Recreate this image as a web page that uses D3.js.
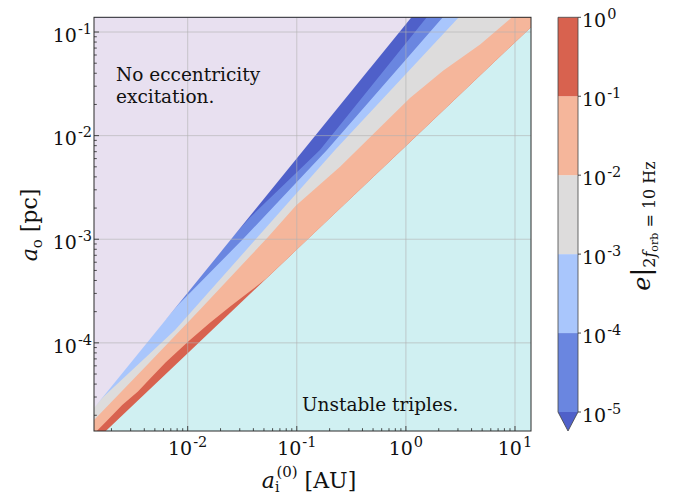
<!DOCTYPE html>
<html>
<head>
<meta charset="utf-8">
<script src="https://cdn.jsdelivr.net/npm/d3@7"></script>
<style>
  body { margin: 0; background: #fff; }
  svg text { font-family: "DejaVu Serif", serif; fill: #111; }
</style>
</head>
<body>
<script>
// contour edges, each point is [a_i (AU), a_o (pc)]
var stableEdge = [[1.0e-3, 7.94e-6], [1.0e-2, 7.94e-5], [1.0e-1, 7.94e-4], [1.0, 7.94e-3], [20, 0.159]];
var edge1e1 = [[1.0e-3, 9.55e-6], [1.26e-3, 1.20e-5], [1.8e-3, 1.75e-5], [2.51e-3, 2.51e-5], [3.5e-3, 3.4e-5],
               [4.51e-3, 4.51e-5], [6.3e-3, 6.5e-5], [1.0e-2, 1.02e-4], [1.58e-2, 1.55e-4], [2.45e-2, 2.24e-4],
               [3.55e-2, 3.02e-4], [5.25e-2, 4.17e-4], [20, 0.159]];
var edge1e2 = [[1.0e-3, 1.29e-5], [1.38e-3, 1.79e-5], [4.51e-3, 6.52e-5], [1.30e-2, 2.10e-4], [5.45e-2, 1.05e-3],
               [9.84e-2, 2.12e-3], [0.249, 5.02e-3], [1.09, 2.31e-2], [2.19, 4.23e-2], [4.79, 7.59e-2],
               [9.40, 0.139], [20, 0.282]];
var edge1e3 = [[1.41e-3, 2.45e-5], [1.71e-3, 3.05e-5], [7.66e-3, 1.33e-4], [4.14e-2, 9.82e-4], [0.224, 7.26e-3],
               [3.07, 0.1396], [5.01, 0.251]];
var edge1e4 = [[6.31e-3, 1.70e-4], [8.15e-3, 2.32e-4], [3.15e-2, 9.82e-4], [0.189, 7.26e-3], [2.19, 0.1396], [3.55, 0.263]];
var edge1e5 = [[2.51e-2, 1.02e-3], [3.72e-2, 1.62e-3], [0.163, 7.26e-3], [1.56, 0.1396], [2.51, 0.263]];
var quietEdge = [[6.31e-4, 8.51e-6], [3.16e-2, 1.355e-3], [1.413, 0.1866]];

var cbLevels = [1e-5, 1e-4, 1e-3, 1e-2, 1e-1, 1];
var cbColors = ["#6a86e0", "#a9c6fc", "#dddcdc", "#f5b69b", "#d8624f"];
var underColor = "#4f60c9";
var quietColor = "#e8e0f0";
var unstableColor = "#d0f0f2";

var xTicks = [1e-2, 1e-1, 1, 10];
var yTicks = [1e-4, 1e-3, 1e-2, 1e-1];
var xTickExp = ["-2", "-1", "0", "1"];
var yTickExp = ["-4", "-3", "-2", "-1"];
var cbTickExp = ["-5", "-4", "-3", "-2", "-1", "0"];

var W = 676, H = 497;
var pL = 94, pR = 531, pT = 17.3, pB = 431;

var x = d3.scaleLog().domain([1.384e-3, 14.02]).range([pL, pR]);
var y = d3.scaleLog().domain([1.41e-5, 0.1387]).range([pB, pT]);

var svg = d3.select("body").append("svg")
    .attr("width", W).attr("height", H);

svg.append("clipPath").attr("id", "plotClip")
  .append("rect").attr("x", pL).attr("y", pT)
    .attr("width", pR - pL).attr("height", pB - pT);

var plot = svg.append("g").attr("clip-path", "url(#plotClip)");

// region lying above / left of an edge, closed far outside the axes
function above(edge) {
  var first = edge[0], last = edge[edge.length - 1];
  var pts = edge.slice();
  pts.push([last[0], 1e3]);
  pts.push([1e-8, 1e3]);
  pts.push([1e-8, first[1]]);
  return d3.line().x(function(d){ return x(d[0]); }).y(function(d){ return y(d[1]); })(pts) + "Z";
}

plot.append("rect").attr("x", pL).attr("y", pT)
    .attr("width", pR - pL).attr("height", pB - pT)
    .attr("fill", unstableColor);

// painted from the high-e side to the low-e side
var layers = [
  {edge: stableEdge, color: cbColors[4]},
  {edge: edge1e1, color: cbColors[3]},
  {edge: edge1e2, color: cbColors[2]},
  {edge: edge1e3, color: cbColors[1]},
  {edge: edge1e4, color: cbColors[0]},
  {edge: edge1e5, color: underColor},
  {edge: quietEdge, color: quietColor}
];
plot.selectAll("path.band").data(layers).enter().append("path")
    .attr("class", "band")
    .attr("d", function(d){ return above(d.edge); })
    .attr("fill", function(d){ return d.color; });

// grid
plot.selectAll("line.gx").data(xTicks).enter().append("line")
    .attr("x1", function(d){ return x(d); }).attr("x2", function(d){ return x(d); })
    .attr("y1", pT).attr("y2", pB)
    .attr("stroke", "#b0b0b0").attr("stroke-opacity", 0.6).attr("stroke-width", 1);
plot.selectAll("line.gy").data(yTicks).enter().append("line")
    .attr("y1", function(d){ return y(d); }).attr("y2", function(d){ return y(d); })
    .attr("x1", pL).attr("x2", pR)
    .attr("stroke", "#b0b0b0").attr("stroke-opacity", 0.6).attr("stroke-width", 1);

// ticks (inward, left and bottom only)
var xMinor = [], yMinor = [];
for (var e = -3; e <= 1; e++) {
  for (var m = 2; m <= 9; m++) {
    var v = m * Math.pow(10, e);
    if (v > x.domain()[0] && v < x.domain()[1]) xMinor.push(v);
  }
}
for (var e = -5; e <= -1; e++) {
  for (var m = 2; m <= 9; m++) {
    var v = m * Math.pow(10, e);
    if (v > y.domain()[0] && v < y.domain()[1]) yMinor.push(v);
  }
}
var axisG = svg.append("g").attr("stroke", "#222").attr("stroke-width", 0.8);
axisG.selectAll("line.xt").data(xTicks.map(function(d){ return [d, 5]; }).concat(xMinor.map(function(d){ return [d, 2.8]; })))
  .enter().append("line")
    .attr("x1", function(d){ return x(d[0]); }).attr("x2", function(d){ return x(d[0]); })
    .attr("y1", pB).attr("y2", function(d){ return pB - d[1]; });
axisG.selectAll("line.yt").data(yTicks.map(function(d){ return [d, 5]; }).concat(yMinor.map(function(d){ return [d, 2.8]; })))
  .enter().append("line")
    .attr("y1", function(d){ return y(d[0]); }).attr("y2", function(d){ return y(d[0]); })
    .attr("x1", pL).attr("x2", function(d){ return pL + d[1]; });

// spines
svg.append("rect").attr("x", pL).attr("y", pT)
    .attr("width", pR - pL).attr("height", pB - pT)
    .attr("fill", "none").attr("stroke", "#2a2a2a").attr("stroke-width", 1);

// tick labels
function powLabel(sel, exp) {
  sel.append("tspan").text("10");
  sel.append("tspan").attr("font-size", 14.5).attr("dx", 1).attr("dy", -8).text(exp);
}
xTicks.forEach(function(t, i){
  var tx = svg.append("text").attr("x", x(t)).attr("y", 454.5)
      .attr("text-anchor", "middle").attr("font-size", 19);
  powLabel(tx, xTickExp[i]);
});
yTicks.forEach(function(t, i){
  var ty = svg.append("text").attr("x", 92).attr("y", y(t) + 9.7)
      .attr("text-anchor", "end").attr("font-size", 19);
  powLabel(ty, yTickExp[i]);
});

// annotations
var note = svg.append("text").attr("font-size", 18.5);
note.append("tspan").attr("x", 116).attr("y", 81).text("No eccentricity");
note.append("tspan").attr("x", 116).attr("y", 103).text("excitation.");
svg.append("text").attr("x", 302).attr("y", 410.5).attr("font-size", 18.5).text("Unstable triples.");

// axis labels
var xl = svg.append("text").attr("x", 309).attr("y", 488).attr("text-anchor", "middle").attr("font-size", 22);
xl.append("tspan").attr("font-style", "italic").text("a");
xl.append("tspan").attr("font-size", 14).attr("dy", 4).text("i");
xl.append("tspan").attr("font-size", 15).attr("dx", -3).attr("dy", -15).text("(0)");
xl.append("tspan").attr("dy", 11).text(" [AU]");

var yl = svg.append("text").attr("transform", "translate(37,225) rotate(-90)")
    .attr("text-anchor", "middle").attr("font-size", 22);
yl.append("tspan").attr("font-style", "italic").text("a");
yl.append("tspan").attr("font-size", 15).attr("dy", 5).text("o");
yl.append("tspan").attr("dy", -5).text(" [pc]");

// colorbar
var cbx = 558, cbw = 20;
var cy = d3.scaleLog().domain([1e-5, 1]).range([412, pT]);
var cb = svg.append("g");
cb.selectAll("rect").data(cbColors).enter().append("rect")
    .attr("x", cbx).attr("width", cbw)
    .attr("y", function(d, i){ return cy(cbLevels[i + 1]); })
    .attr("height", function(d, i){ return cy(cbLevels[i]) - cy(cbLevels[i + 1]); })
    .attr("fill", function(d){ return d; });
cb.append("path")
    .attr("d", "M" + cbx + "," + cy(1e-5) + "L" + (cbx + cbw) + "," + cy(1e-5) + "L" + (cbx + cbw / 2) + ",431Z")
    .attr("fill", underColor);
cb.append("path")
    .attr("d", "M" + cbx + "," + cy(1) + "L" + (cbx + cbw) + "," + cy(1) + "L" + (cbx + cbw) + "," + cy(1e-5) +
               "L" + (cbx + cbw / 2) + ",431L" + cbx + "," + cy(1e-5) + "Z")
    .attr("fill", "none").attr("stroke", "#444").attr("stroke-width", 0.8);
cb.selectAll("line").data(cbLevels).enter().append("line")
    .attr("x1", cbx + cbw).attr("x2", cbx + cbw + 3)
    .attr("y1", function(d){ return cy(d); }).attr("y2", function(d){ return cy(d); })
    .attr("stroke", "#222").attr("stroke-width", 0.8);
cbLevels.forEach(function(l, i){
  var t = svg.append("text").attr("x", 582).attr("y", cy(l) + 10).attr("font-size", 19);
  powLabel(t, cbTickExp[i]);
});

var cl = svg.append("text").attr("transform", "translate(650,226) rotate(-90)")
    .attr("text-anchor", "middle").attr("font-size", 24);
cl.append("tspan").attr("font-style", "italic").text("e");
cl.append("tspan").attr("font-size", 26).text("|");
cl.append("tspan").attr("font-size", 16).attr("dy", 5).text("2");
cl.append("tspan").attr("font-size", 16).attr("font-style", "italic").text("f");
cl.append("tspan").attr("font-size", 11).attr("dy", 3).text("orb");
cl.append("tspan").attr("font-size", 16).attr("dy", -3).text(" = 10 Hz");
</script>
</body>
</html>
